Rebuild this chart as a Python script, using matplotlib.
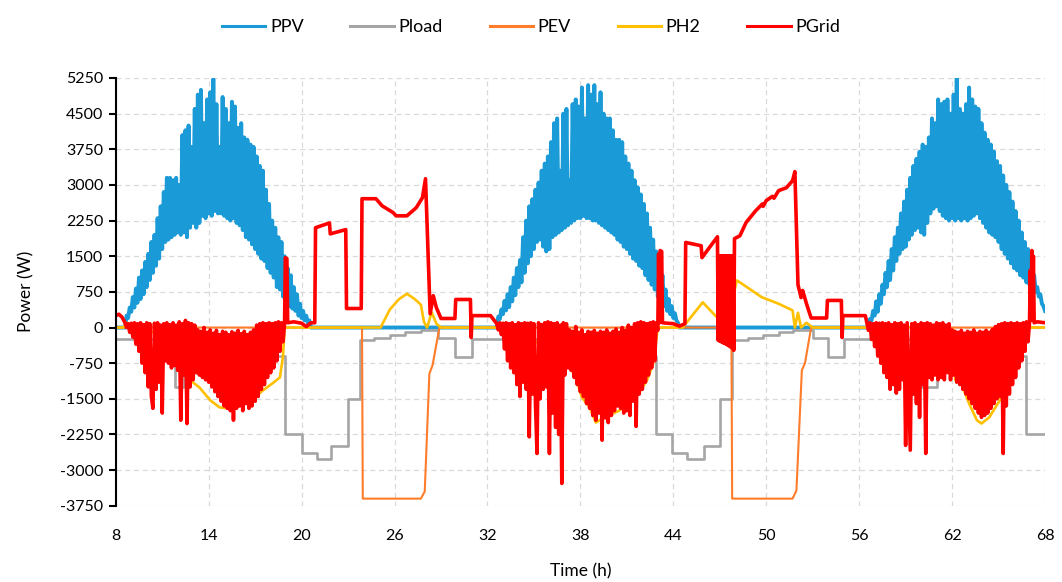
import numpy as np
import matplotlib.pyplot as plt

plt.rcParams['font.family'] = ['Lato', 'DejaVu Sans']
plt.rcParams['axes.unicode_minus'] = False

# ---- data (W) ----
step = 0.1  # sampling of the noisy daytime blocks (h)

# PV, daytime blocks (zero at night)
pv_day1_start = 8.6
pv_day1 = [0, 250, 200, 420, 330, 640, 420, 820, 520, 1050,
           600, 1200, 700, 1380, 850, 1550, 1000, 1800, 1150, 1950,
           1300, 2300, 1450, 2550, 1650, 2850, 1800, 3150, 1850, 3150,
           1900, 3100, 1950, 3150, 2000, 3000, 1950, 4050, 2000, 4150,
           1900, 4250, 2100, 3800, 2200, 4600, 2100, 4900, 2200, 5000,
           2350, 4300, 2300, 4800, 2400, 4950, 2350, 5230, 2450, 4700,
           2400, 3800, 2400, 4850, 2350, 4600, 2300, 4300, 2250, 4750,
           2300, 4650, 2200, 4200, 2150, 4300, 2050, 4000, 1900, 3950,
           1850, 3850, 1750, 3800, 1650, 3600, 1550, 3400, 1450, 3300,
           1400, 2900, 1250, 2600, 1150, 2250, 1050, 2100, 850, 1900,
           800, 1800, 650, 1500, 500, 1250, 450, 1100, 400, 850,
           350, 700, 250, 500, 200, 350, 150, 250, 100, 150,
           0]
pv_day2_start = 32.6
pv_day2 = [0, 230, 180, 380, 280, 560, 360, 700, 430, 850,
           550, 1050, 680, 1250, 850, 1420, 950, 1900, 1150, 2250,
           1350, 2550, 1500, 2700, 1650, 2900, 1800, 3050, 1850, 3300,
           1700, 3450, 1600, 3600, 1650, 3900, 1900, 4300, 1950, 4400,
           2000, 3300, 2050, 4500, 2100, 4600, 2150, 3100, 2200, 4700,
           2250, 4800, 2300, 4650, 2300, 5050, 2350, 4400, 2300, 5100,
           2300, 4900, 2250, 5100, 2250, 4700, 2200, 4950, 2150, 4500,
           2100, 4400, 2050, 4400, 2000, 4150, 1950, 3950, 1850, 3950,
           1800, 3900, 1700, 3600, 1650, 3450, 1550, 3300, 1450, 3100,
           1400, 2950, 1300, 2800, 1250, 2600, 1100, 2400, 1000, 2100,
           900, 1850, 800, 1600, 650, 1400, 550, 1100, 450, 800,
           350, 600, 280, 450, 200, 300, 150, 100, 0]
pv_day3_start = 56.6
pv_day3 = [0, 180, 150, 350, 250, 550, 330, 700, 500, 900,
           700, 1150, 850, 1400, 1000, 1650, 1200, 1900, 1400, 2100,
           1550, 2400, 1650, 2650, 1700, 2900, 1850, 3150, 1950, 3400,
           2050, 3550, 2100, 3700, 2000, 3850, 1950, 3800, 2200, 4000,
           2400, 4400, 2500, 4300, 2550, 4800, 2450, 4700, 2350, 4750,
           2300, 4800, 2250, 4500, 2300, 4900, 2250, 5250, 2300, 4600,
           2250, 4500, 2300, 4700, 2250, 5050, 2300, 4800, 2350, 4650,
           2400, 4600, 2300, 4300, 2200, 4100, 2100, 3950, 2000, 3850,
           1950, 3700, 1900, 3500, 1800, 3400, 1650, 3200, 1550, 3000,
           1450, 2850, 1350, 2650, 1250, 2450, 1200, 2250, 1100, 2000,
           1050, 1800, 950, 1650, 900, 1350, 850, 1100, 750, 850,
           650, 700, 500, 450, 350]

# Load (step function)
load_t = [8.0, 11.8, 12.4, 15.5, 16.2, 18.9, 20.0, 21.0, 21.9, 23.0, 23.8, 24.7, 25.7, 26.7, 27.7, 28.8, 29.9, 31.0,
          35.9, 36.5, 39.7, 40.3, 42.9, 43.9, 44.9, 46.0, 47.0, 47.8, 48.8, 49.8, 50.8, 51.7, 53.0, 54.0, 55.0,
          60.0, 61.0, 63.7, 64.4, 66.8, 68.0]
load_v = [-250, -1260, -600, -130, -600, -2250, -2650, -2770, -2500, -1500, -270, -220, -160, -100, -60, -210, -610, -250,
          -1260, -600, -210, -600, -2250, -2630, -2770, -2500, -1510, -270, -220, -160, -100, -60, -210, -610, -250,
          -1260, -600, -210, -600, -2250, -2250]

# EV
ev_t = [8.0, 23.9, 23.95, 27.7, 27.95, 28.25, 28.45, 28.9, 47.75, 47.8, 51.7, 51.95, 52.3, 52.5, 52.9, 68.0]
ev_v = [0, 0, -3600, -3600, -3450, -970, -800, 0, 0, -3600, -3600, -3430, -900, -750, 0, 0]

# H2
h2_t = [8.0, 8.5, 8.7, 8.9, 10.5, 11.0, 11.4, 11.9, 12.8, 13.4, 14.1, 14.7, 15.2, 15.7, 16.5, 17.2, 17.8, 18.1, 18.6, 18.8, 18.9,
        25.1, 25.7, 26.3, 26.8, 27.3, 27.7, 27.9, 28.1, 28.4, 28.7, 29.0,
        33.0, 34.0, 35.5, 37.0, 37.1, 37.7, 38.1, 38.6, 39.0, 39.5, 40.5, 41.6, 42.3, 42.7, 43.0,
        44.6, 45.9, 46.8, 47.9, 48.1, 48.3, 49.7, 50.8, 51.7, 51.85, 52.05, 52.25, 52.6, 53.0,
        61.0, 62.1, 62.2, 62.5, 63.1, 63.6, 63.9, 64.4, 65.2, 65.7, 66.3, 66.8, 68.0]
h2_v = [0, 0, 100, 0, -100, -350, -420, -690, -1110, -1260, -1530, -1680, -1700, -1600, -1500, -1400, -1250, -1180, -1050, -600, 0,
        0, 380, 600, 710, 600, 480, 120, 0, 320, 80, 0,
        0, -150, -350, -400, -700, -1050, -1470, -1680, -2000, -1900, -1750, -1470, -1110, -760, 0,
        0, 530, 220, 700, 990, 950, 640, 500, 360, 0, 310, 0, 100, 0,
        0, -50, -1100, -1110, -1600, -1950, -2020, -1890, -1470, -1180, -600, 0, 0]

# Grid: night pieces as breakpoints, daytime as sampled blocks
grid_n0_t = [8.0, 8.2, 8.4, 8.6]
grid_n0_v = [250, 280, 220, 100]
grid_day1_start = 8.7
grid_day1 = [0, 80, -100, 90, -200, 100, -350, 80, -500, 100,
             -750, 60, -950, 100, -1250, 80, -1450, -1700, 90, -1300,
             100, -1150, 50, -1800, 80, -700, 100, -750, 60, -850,
             100, -800, 50, -900, 120, -1950, 80, -1000, 150, -2020,
             100, -1250, 80, -1100, 50, -950, -50, -1000, -80, -1050,
             0, -1100, -100, -1150, -50, -1250, -120, -1350, -60, -1450,
             -150, -1550, -80, -1650, -100, -1700, -150, -1750, -90, -1950,
             -120, -1700, -60, -1650, -130, -1750, -80, -1600, -150, -1700,
             -100, -1650, -50, -1550, 50, -1450, 80, -1300, 100, -1200,
             80, -1050, 100, -950, 80, -850, 100, -700, 120, -500,
             100, -300, 80]
grid_n1_t = [18.95, 19.05, 19.1, 19.5, 20.0, 20.3, 20.6, 20.85,
             20.9, 21.8, 21.85, 22.85, 22.9, 23.85,
             23.9, 24.8, 25.2, 25.9, 26.1, 26.8, 27.4, 27.8, 28.0,
             28.3, 28.5, 28.7, 29.0, 29.9, 29.95, 30.9, 30.95, 31.0, 32.2]
grid_n1_v = [1470, 1450, 100, 120, 90, 20, 100, 100,
             2100, 2200, 1970, 2060, 400, 400,
             2710, 2710, 2560, 2420, 2350, 2350, 2520, 2730, 3130,
             290, 670, 420, 190, 190, 590, 590, -210, 250, 250]
grid_day2_start = 32.6
grid_day2 = [80, -50, 100, -150, 90, -450, 100, -700, 80, -850,
             100, -950, 60, -1200, 100, -1450, 80, -1150, 100, -1300,
             90, -2300, 100, -1400, 80, -1600, -2650, 100, -1500, 60,
             -1300, 100, -1250, 120, -2650, 100, -1800, 80, -2100, 100,
             -2250, 50, -3280, 100, -1000, 80, -850, -50, -900, -80,
             -1050, 20, -1200, -100, -1350, -50, -1450, -150, -1600, -80,
             -1700, -100, -1850, -60, -1950, -120, -1800, -80, -2370, -100,
             -1900, -50, -2000, -120, -1850, -80, -1750, -30, -1650, -100,
             -1700, 0, -1800, -60, -1750, 50, -1850, 0, -1550, 80,
             -2080, 100, -1400, 120, -1300, 100, -1150, 80, -1000, 100,
             -850, 120, -700, 100, -60]
grid_n2_t = [43.05, 43.1, 43.15, 43.25, 43.3, 44.0, 44.4, 44.75, 44.8, 45.8, 45.85, 46.85,
             46.9, 46.95, 47.0, 47.05, 47.1, 47.15, 47.2, 47.25, 47.3, 47.35, 47.4, 47.45,
             47.5, 47.55, 47.6, 47.65, 47.7, 47.75, 47.8, 47.85, 47.9,
             47.95, 48.3, 48.7, 48.9, 49.3, 49.75, 49.8, 50.0, 50.4, 50.5, 50.8, 51.3, 51.7,
             51.85, 52.05, 52.25, 52.35, 52.6, 52.9, 53.9, 53.95, 54.85, 54.9, 54.95, 56.4]
grid_n2_v = [1550, 100, 1620, 1600, 100, 80, 30, 80, 1790, 1720, 1470, 1910,
             -270, 1510, -290, 1510, -300, 1510, -320, 1510, -330, 1510, -350, 1510,
             -370, 1510, -390, 1510, -410, 1510, -430, 1510, -480,
             1870, 1930, 2210, 2290, 2450, 2600, 2550, 2670, 2760, 2720, 2880, 2940, 3090,
             3280, 900, 630, 780, 500, 200, 200, 570, 570, -210, 250, 250]
grid_day3_start = 56.6
grid_day3 = [-60, 100, -250, 80, -400, 100, -600, 90, -750, 100,
             -950, 80, -1050, 100, -1300, 60, -1200, 100, -1380, 80,
             -1300, 100, -1100, 50, -2480, 100, -1250, -2580, 80, -1400,
             100, -1600, 60, -1890, 100, -1200, 80, -2650, 100, -1050,
             80, -1100, 50, -1000, 100, -1100, 80, -1050, 100, -1100,
             50, -950, 80, -1100, -50, -1000, -80, -1150, -100, -1200,
             -60, -1300, -120, -1400, -80, -1500, -100, -1600, -50, -1700,
             -120, -1800, -80, -1890, -100, -1850, -60, -1800, -100, -1700,
             -40, -1600, 20, -1500, 60, -1450, 80, -2650, 100, -1650,
             80, -1400, 100, -1200, 80, -1050, 100, -850, 80, -700,
             100, -500, 120, -300, 100]
grid_n3_t = [67.05, 67.1, 67.15, 67.2, 67.25, 67.3, 67.5, 68.0]
grid_n3_v = [1200, 150, 1620, 300, 1500, 100, 120, 100]


def block_times(start, vals):
    return start + step * np.arange(len(vals))


pv_t = np.concatenate([[8.0], block_times(pv_day1_start, pv_day1),
                       block_times(pv_day2_start, pv_day2),
                       block_times(pv_day3_start, pv_day3)])
pv_v = np.concatenate([[0], pv_day1, pv_day2, pv_day3])

grid_t = np.concatenate([grid_n0_t, block_times(grid_day1_start, grid_day1), grid_n1_t,
                         block_times(grid_day2_start, grid_day2), grid_n2_t,
                         block_times(grid_day3_start, grid_day3), grid_n3_t])
grid_v = np.concatenate([grid_n0_v, grid_day1, grid_n1_v, grid_day2, grid_n2_v, grid_day3, grid_n3_v])

# ---- plot ----
fig = plt.figure(figsize=(10.62, 5.82), dpi=100)
ax = fig.add_axes([0.109, 0.131, 0.875, 0.735])

ax.plot(pv_t, pv_v, color='#1a9ad6', lw=2.8, label='PPV')
ax.plot(load_t, load_v, color='#a5a5a5', lw=1.9, drawstyle='steps-post', label='Pload')
ax.plot(ev_t, ev_v, color='#ff7c2a', lw=1.5, label='PEV')
ax.plot(h2_t, h2_v, color='#ffc000', lw=1.9, label='PH2')
ax.plot(grid_t, grid_v, color='#ff0000', lw=2.6, label='PGrid')

ax.set_xlim(8, 68)
ax.set_ylim(-3750, 5250)
ax.set_xticks(np.arange(8, 69, 6))
ax.set_yticks(np.arange(-3750, 5251, 750))
ax.grid(True, color='#d9d9d9', ls=(0, (4, 3)), lw=0.9)
ax.set_axisbelow(True)

for s in ['top', 'right', 'bottom']:
    ax.spines[s].set_visible(False)
ax.spines['left'].set_linewidth(1.5)
ax.tick_params(axis='y', length=5, width=1.5, pad=4, labelsize=11.5)
ax.tick_params(axis='x', length=0, pad=17, labelsize=11.5)

ax.set_ylabel('Power (W)', fontsize=12.5, labelpad=18)
ax.set_xlabel('Time (h)', fontsize=12.5, labelpad=14)

leg = fig.legend(loc='center', bbox_to_anchor=(0.5, 0.953), ncol=5, frameon=False,
                 fontsize=13, handlelength=2.4, handletextpad=0.25, columnspacing=2.6)
for h in leg.get_lines():
    h.set_linewidth(2.2)

fig.savefig('out.png', dpi=100)
